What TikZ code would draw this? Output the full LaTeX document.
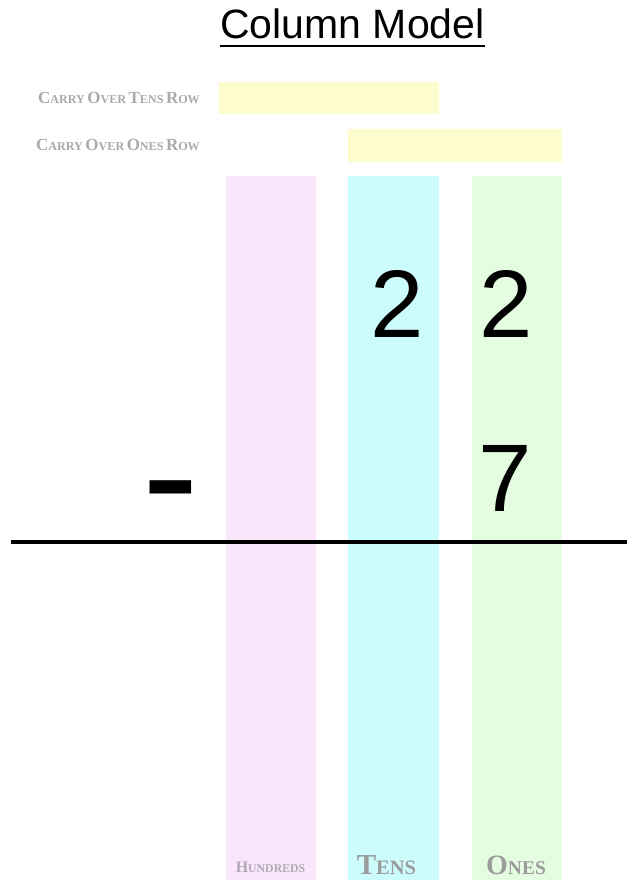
\documentclass[tikz,border=0pt]{standalone}
\usepackage{fontspec}
\setmainfont{Liberation Serif}
\newfontfamily\arialfont{Liberation Sans}
\definecolor{hundcol}{HTML}{FAE6FA}
\definecolor{tenscol}{HTML}{CCFCFC}
\definecolor{onescol}{HTML}{E4FCE0}
\definecolor{carrycol}{HTML}{FCFCCC}
\definecolor{labgray}{HTML}{AAAAAA}
\definecolor{hundtxt}{HTML}{B2A8B8}
\definecolor{coltxt}{HTML}{9C9C9C}
\newcommand\mysc[4]{{\fontsize{#1pt}{#1pt}\selectfont #3}{\fontsize{#2pt}{#2pt}\selectfont #4}}
\tikzset{
  colbar/.style={inner sep=0pt, draw=none},
  digit/.style={inner sep=0pt, anchor=base, font=\arialfont\fontsize{96pt}{96pt}\selectfont},
  rowlabel/.style={inner sep=0pt, anchor=base east, text=labgray, font=\bfseries},
  collabel/.style={inner sep=0pt, anchor=base, font=\bfseries}
}
\begin{document}
\begin{tikzpicture}[x=1pt,y=-1pt]
\useasboundingbox (0,0) rectangle (627,880);
% column bars
\fill[hundcol] (226,176) rectangle (316,880);
\fill[tenscol] (348,176) rectangle (439,880);
\fill[onescol] (472,176) rectangle (562,880);
% carry rows
\fill[carrycol] (219,82) rectangle (439,114);
\fill[carrycol] (348,129) rectangle (562,162);
% title
\node[inner sep=0pt, anchor=base, font=\arialfont\fontsize{41pt}{41pt}\selectfont] (title) at (352.5,39) {Column Model};
\draw[line width=2.2pt] ([yshift=-7pt]title.base west) -- ([yshift=-7pt]title.base east);
% row labels
\node[rowlabel] (tensrow) at (200,103) {\mysc{17}{12.1}{C}{ARRY} \mysc{17}{12.1}{O}{VER} \mysc{17}{12.1}{T}{ENS} \mysc{17}{12.1}{R}{OW}};
\node[rowlabel] (onesrow) at (200,150) {\mysc{17}{12.1}{C}{ARRY} \mysc{17}{12.1}{O}{VER} \mysc{17}{12.1}{O}{NES} \mysc{17}{12.1}{R}{OW}};
% digits
\node[digit] (t1) at (397.5,337) {2};
\node[digit] (o1) at (506.5,337) {2};
\node[digit] (o2) at (505.5,511) {7};
\node[inner sep=0pt, anchor=base, font=\arialfont\fontsize{170pt}{170pt}\selectfont] (minus) at (170.5,532) {-};
% rule
\coordinate (ruleL) at (11,542);
\coordinate (ruleR) at (627,542);
\draw[line width=4pt] (ruleL) -- (ruleR);
% column labels
\node[collabel, text=hundtxt] (hund) at (270.5,872) {\mysc{16}{11.8}{H}{UNDREDS}};
\node[collabel, text=coltxt] (tens) at (386.5,874) {\mysc{29}{20.5}{T}{ENS}};
\node[collabel, text=coltxt] (ones) at (516,874) {\mysc{28}{19.5}{O}{NES}};
\end{tikzpicture}
\end{document}
